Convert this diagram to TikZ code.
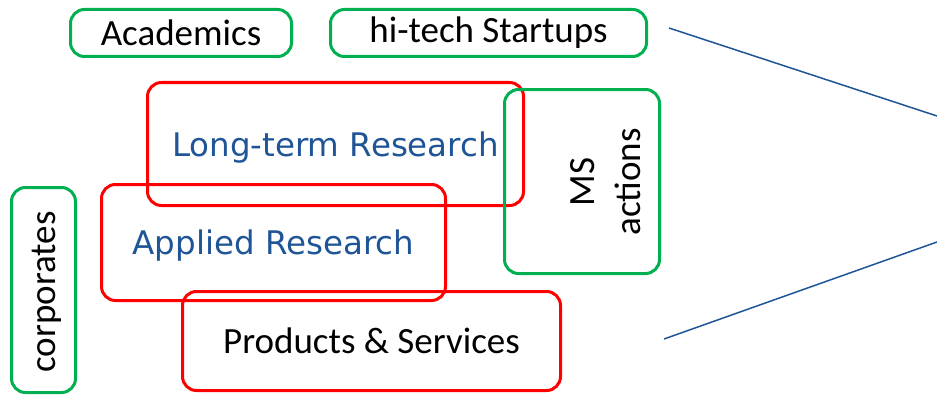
\documentclass[tikz,border=0pt]{standalone}
\usepackage{fontspec}
\setmainfont{Carlito}
\newfontfamily\bluefont{DejaVu Sans}
\definecolor{boxgreen}{RGB}{0,176,80}
\definecolor{boxred}{RGB}{255,0,0}
\definecolor{textblue}{RGB}{31,85,150}
\tikzset{
  greenbox/.style={draw=boxgreen, line width=3pt, rounded corners=14pt, inner sep=0pt},
  redbox/.style={draw=boxred, line width=3pt, rounded corners=14pt, inner sep=0pt},
  bluetext/.style={text=textblue, font=\bluefont\fontsize{32.5}{36}\selectfont, text height=32pt, text depth=7.6pt},
  blacktext/.style={font=\fontsize{37}{46}\selectfont},
  spoke/.style={draw=textblue, line width=1.5pt}
}
\begin{document}
\begin{tikzpicture}[x=1pt, y=-1pt]
\useasboundingbox (0, 0) rectangle (937, 396);
\path (181, 33) node[greenbox, blacktext, minimum width=221pt, minimum height=47pt] (academics) {Academics};
\path (488.5, 33) node[greenbox, blacktext, minimum width=316pt, minimum height=47pt] (startups) {hi-tech Startups};
\path (335.5, 144) node[redbox, bluetext, minimum width=376pt, minimum height=123pt] (longterm) {Long-term Research};
\path (582, 181.5) node[greenbox, minimum width=155pt, minimum height=184pt] (msbox) {};
\path (606, 182) node[blacktext, rotate=90, align=center, inner sep=0pt] (mstext) {MS\\actions};
\path (43.5, 290) node[greenbox, minimum width=64pt, minimum height=205pt] (corpbox) {};
\path (55, 292) node[blacktext, rotate=90, anchor=base, inner sep=0pt] (corptext) {corporates};
\path (273.5, 242.5) node[redbox, bluetext, minimum width=344pt, minimum height=116pt] (applied) {Applied Research};
\path (371.5, 341) node[redbox, blacktext, minimum width=378pt, minimum height=99pt] (products) {Products \& Services};
\coordinate (topstart) at (669, 28);
\coordinate (topend) at (937, 116);
\coordinate (botstart) at (664, 339);
\coordinate (botend) at (937, 242);
\draw[spoke] (topstart) -- (topend);
\draw[spoke] (botstart) -- (botend);
\end{tikzpicture}
\end{document}
